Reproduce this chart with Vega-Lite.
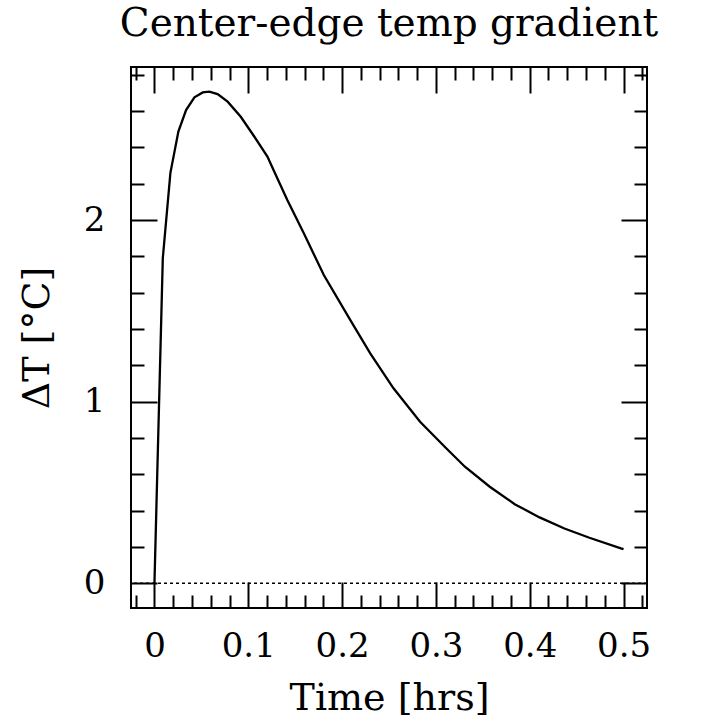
{
  "$schema": "https://vega.github.io/schema/vega-lite/v6.json",
  "width": 516,
  "height": 541,
  "autosize": "none",
  "padding": {"left": 131, "top": 67, "right": 77, "bottom": 118},
  "background": "white",
  "config": {
    "view": {"stroke": "black", "strokeWidth": 2},
    "font": "DejaVu Serif",
    "axis": {
      "domain": false,
      "grid": false,
      "labelFont": "DejaVu Serif",
      "labelFontSize": 34,
      "labelColor": "black",
      "labelOverlap": false,
      "titleFont": "DejaVu Serif",
      "titleFontSize": 38,
      "titleFontWeight": "normal",
      "titleColor": "black",
      "tickColor": "black",
      "tickWidth": 2
    }
  },
  "title": {
    "text": "Center-edge temp gradient",
    "font": "DejaVu Serif",
    "fontSize": 39,
    "fontWeight": "normal",
    "color": "black",
    "anchor": "middle",
    "baseline": "bottom",
    "offset": -25
  },
  "data": {
    "values": [
      {"t": 0, "dT": 0},
      {"t": 0.0089, "dT": 1.79},
      {"t": 0.017, "dT": 2.26},
      {"t": 0.0255, "dT": 2.487},
      {"t": 0.0337, "dT": 2.606},
      {"t": 0.0426, "dT": 2.676},
      {"t": 0.0515, "dT": 2.703},
      {"t": 0.0585, "dT": 2.707},
      {"t": 0.0673, "dT": 2.694},
      {"t": 0.078, "dT": 2.652},
      {"t": 0.092, "dT": 2.569},
      {"t": 0.106, "dT": 2.463},
      {"t": 0.1204, "dT": 2.35},
      {"t": 0.1274, "dT": 2.27},
      {"t": 0.135, "dT": 2.185},
      {"t": 0.1416, "dT": 2.11},
      {"t": 0.1592, "dT": 1.927},
      {"t": 0.1805, "dT": 1.697},
      {"t": 0.2088, "dT": 1.449},
      {"t": 0.23, "dT": 1.266},
      {"t": 0.2548, "dT": 1.073},
      {"t": 0.2831, "dT": 0.889},
      {"t": 0.3115, "dT": 0.74},
      {"t": 0.3309, "dT": 0.641},
      {"t": 0.3574, "dT": 0.531},
      {"t": 0.384, "dT": 0.435},
      {"t": 0.4105, "dT": 0.362},
      {"t": 0.437, "dT": 0.301},
      {"t": 0.4636, "dT": 0.25},
      {"t": 0.4972, "dT": 0.191},
      {"t": 0.5, "dT": 0.187}
    ]
  },
  "layer": [
    {
      "mark": {"type": "line", "color": "black", "strokeWidth": 2.3},
      "encoding": {
        "x": {
          "field": "t", "type": "quantitative",
          "scale": {"domain": [-0.025, 0.525], "nice": false, "zero": false},
          "axis": {
            "orient": "bottom",
            "title": "Time [hrs]",
            "values": [-0.02, 0, 0.02, 0.04, 0.06, 0.08, 0.1, 0.12, 0.14, 0.16, 0.18, 0.2, 0.22, 0.24, 0.26, 0.28, 0.3, 0.32, 0.34, 0.36, 0.38, 0.4, 0.42, 0.44, 0.46, 0.48, 0.5, 0.52],
            "tickSize": {"condition": {"test": "abs(datum.value*10 - round(datum.value*10)) < 0.001", "value": -26}, "value": -13},
            "labelExpr": "abs(datum.value*10 - round(datum.value*10)) < 0.001 ? format(datum.value, '.1~f') : ''",
            "labelPadding": 47,
            "titlePadding": 3
          }
        },
        "y": {
          "field": "dT", "type": "quantitative",
          "scale": {"domain": [-0.137, 2.843], "nice": false, "zero": false},
          "axis": {
            "orient": "left",
            "title": "ΔT [°C]",
            "values": [0, 0.2, 0.4, 0.6, 0.8, 1, 1.2, 1.4, 1.6, 1.8, 2, 2.2, 2.4, 2.6, 2.8],
            "tickSize": {"condition": {"test": "abs(datum.value - round(datum.value)) < 0.001", "value": -26}, "value": -13},
            "labelExpr": "abs(datum.value - round(datum.value)) < 0.001 ? format(datum.value, 'd') : ''",
            "labelPadding": 52,
            "titlePadding": 27
          }
        }
      }
    },
    {
      "mark": {"type": "line", "color": "black", "strokeWidth": 2, "strokeOpacity": 0},
      "encoding": {
        "x": {
          "field": "t", "type": "quantitative",
          "scale": {"domain": [-0.025, 0.525], "nice": false, "zero": false},
          "axis": {
            "orient": "top",
            "title": null,
            "labels": false,
            "values": [-0.02, 0, 0.02, 0.04, 0.06, 0.08, 0.1, 0.12, 0.14, 0.16, 0.18, 0.2, 0.22, 0.24, 0.26, 0.28, 0.3, 0.32, 0.34, 0.36, 0.38, 0.4, 0.42, 0.44, 0.46, 0.48, 0.5, 0.52],
            "tickSize": {"condition": {"test": "abs(datum.value*10 - round(datum.value*10)) < 0.001", "value": -26}, "value": -13}
          }
        },
        "y": {
          "field": "dT", "type": "quantitative",
          "scale": {"domain": [-0.137, 2.843], "nice": false, "zero": false},
          "axis": {
            "orient": "right",
            "title": null,
            "labels": false,
            "values": [0, 0.2, 0.4, 0.6, 0.8, 1, 1.2, 1.4, 1.6, 1.8, 2, 2.2, 2.4, 2.6, 2.8],
            "tickSize": {"condition": {"test": "abs(datum.value - round(datum.value)) < 0.001", "value": -26}, "value": -13}
          }
        }
      }
    },
    {
      "data": {"values": [{}]},
      "mark": {"type": "rule", "color": "black", "strokeWidth": 1.5, "strokeDash": [3, 3]},
      "encoding": {
        "y": {"datum": 0, "type": "quantitative", "axis": null}
      }
    }
  ],
  "resolve": {"axis": {"x": "independent", "y": "independent"}}
}
